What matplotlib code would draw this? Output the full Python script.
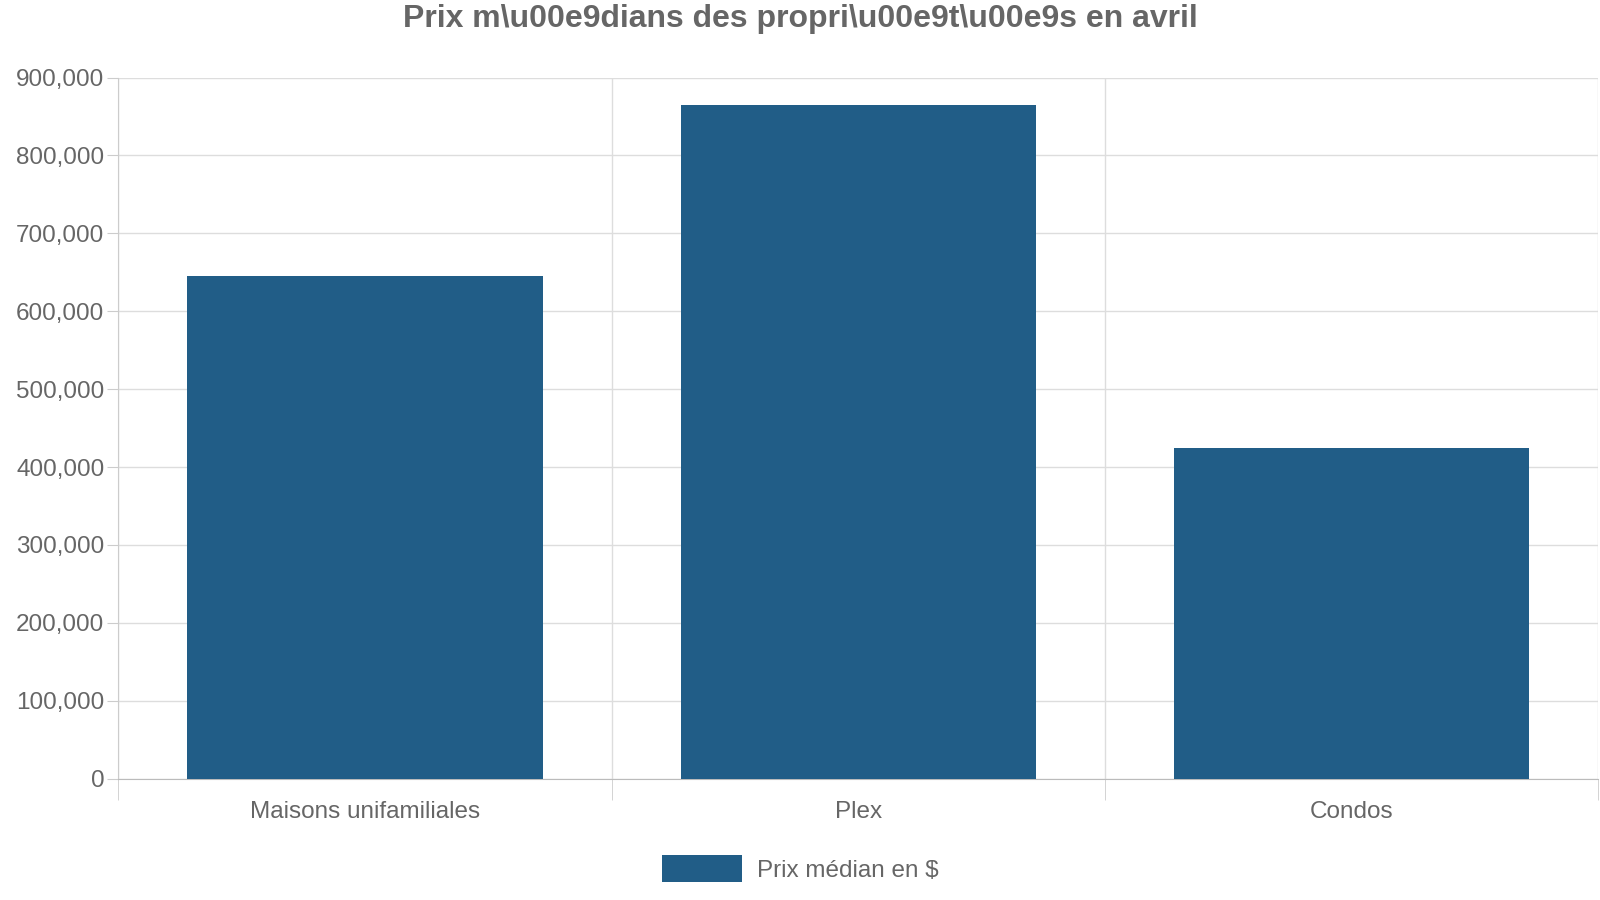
import matplotlib
matplotlib.use("Agg")
import matplotlib.pyplot as plt
from matplotlib.ticker import FuncFormatter

categories = ["Maisons unifamiliales", "Plex", "Condos"]
values = [645000, 865000, 425000]
series_name = "Prix médian en $"
title = r"Prix m\u00e9dians des propri\u00e9t\u00e9s en avril"

W, H = 1568, 882
plt.rcParams['font.family'] = ['Liberation Sans', 'DejaVu Sans']
fig = plt.figure(figsize=(16, 9), dpi=100)
ax = fig.add_axes([116/W, 1-763/H, (1566-116)/W, (763-76)/H])
x = list(range(len(categories)))
ax.bar(x, values, width=0.72, color="#215d87", label=series_name, zorder=3)
ax.set_xlim(-0.5, len(categories)-0.5)
ax.set_ylim(0, 900000)
ax.set_yticks(range(0, 900001, 100000))
ax.yaxis.set_major_formatter(FuncFormatter(lambda v, p: f"{int(v):,}"))
ax.set_xticks(x)
ax.set_xticklabels(categories)
ax.set_xticks([i-0.5 for i in range(len(categories)+1)], minor=True)
ax.tick_params(axis='x', which='major', length=0, pad=16, labelsize=17.5, labelcolor="#666666")
ax.tick_params(axis='x', which='minor', length=15, color="#cccccc")
ax.tick_params(axis='y', length=8, color="#cccccc", labelsize=17.5, labelcolor="#666666", pad=2)
ax.grid(axis='y', color="#dddddd", lw=1, zorder=0)
ax.grid(axis='x', which='minor', color="#dddddd", lw=1, zorder=0)
for s in ['top', 'right']:
    ax.spines[s].set_visible(False)
ax.spines['left'].set_color("#cccccc")
ax.spines['bottom'].set_color("#bbbbbb")
fig.text(0.5, 1-19/H, title, ha='center', va='center', fontsize=23, fontweight='bold', color="#666666")
fig.legend(loc='center', bbox_to_anchor=(0.5, 1-851/H), frameon=False, fontsize=17.5,
           labelcolor="#666666", handlelength=3.3, handleheight=1.3, handletextpad=0.6)
fig.savefig("out.png", dpi=100)
